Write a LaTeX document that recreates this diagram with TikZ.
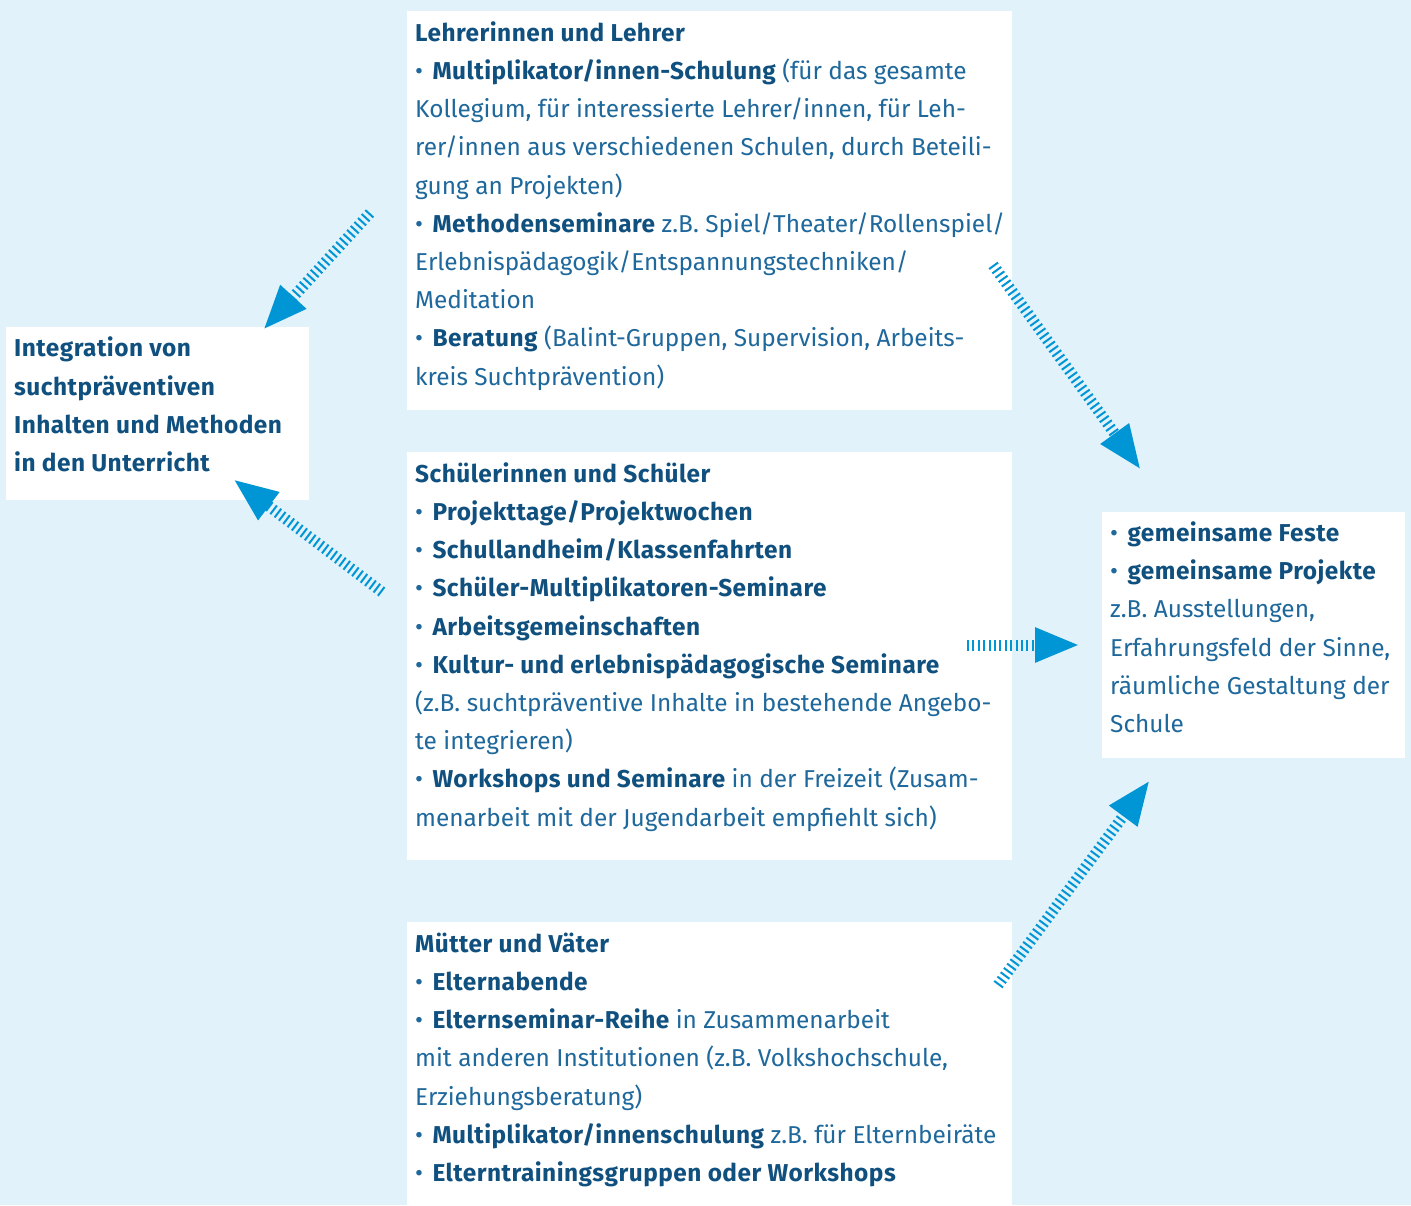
\documentclass[tikz,border=0pt]{standalone}
\usepackage{fontspec}
\setmainfont{Fira Sans}[BoldFeatures={LetterSpace=2.0}]
\usetikzlibrary{arrows.meta}
\definecolor{bg}{HTML}{E1F2FA}
\definecolor{arr}{HTML}{0096D6}
\definecolor{txt}{HTML}{1E689C}
\definecolor{bld}{HTML}{10507F}
\newcommand{\B}[1]{{\bfseries\color{bld}#1}}
\newcommand{\bul}{•\kern3pt\ }
\begin{document}
\begin{tikzpicture}[x=1pt,y=-1pt,
  box/.style={fill=white,draw=none,anchor=north west,inner sep=0pt},
  txtnode/.style={anchor=base west,align=left,inner sep=0pt,text=txt,
    font=\fontsize{24.4}{38.2}\selectfont},
  hatch/.style={draw=arr,line width=11pt,dash pattern=on 2pt off 3.4pt,
    -{Triangle[length=45pt,width=32pt,fill=arr]}}]
\fill[bg] (0,0) rectangle (1411,1205);
\useasboundingbox (0,0) rectangle (1411,1205);
% boxes
\node[box,minimum width=605pt,minimum height=399pt] (lbox) at (407,11) {};
\node[box,minimum width=605pt,minimum height=408pt] (sbox) at (407,452) {};
\node[box,minimum width=605pt,minimum height=283pt] (mbox) at (407,922) {};
\node[box,minimum width=303pt,minimum height=173pt] (ibox) at (6,327) {};
\node[box,minimum width=303pt,minimum height=246pt] (fbox) at (1102,512) {};
% texts (anchored at the baseline of their last line)
\node[txtnode] (ltxt) at (415,385) {\B{Lehrerinnen und Lehrer}\\
\bul\B{Multiplikator/innen-Schulung} (für das gesamte\\
Kollegium, für interessierte Lehrer/innen, für Leh-\\
rer/innen aus verschiedenen Schulen, durch Beteili-\\
gung an Projekten)\\
\bul\B{Methodenseminare} z.B. Spiel/Theater/Rollenspiel/\\
Erlebnispädagogik/Entspannungstechniken/\\
Meditation\\
\bul\B{Beratung} (Balint-Gruppen, Supervision, Arbeits-\\
kreis Suchtprävention)};
\node[txtnode] (stxt) at (415,826) {\B{Schülerinnen und Schüler}\\
\bul\B{Projekttage/Projektwochen}\\
\bul\B{Schullandheim/Klassenfahrten}\\
\bul\B{Schüler-Multiplikatoren-Seminare}\\
\bul\B{Arbeitsgemeinschaften}\\
\bul\B{Kultur- und erlebnispädagogische Seminare}\\
(z.B. suchtpräventive Inhalte in bestehende Angebo-\\
te integrieren)\\
\bul\B{Workshops und Seminare} in der Freizeit (Zusam-\\
menarbeit mit der Jugendarbeit empfiehlt sich)};
\node[txtnode] (mtxt) at (415,1181.5) {\B{Mütter und Väter}\\
\bul\B{Elternabende}\\
\bul\B{Elternseminar-Reihe} in Zusammenarbeit\\
mit anderen Institutionen (z.B. Volkshochschule,\\
Erziehungsberatung)\\
\bul\B{Multiplikator/innenschulung} z.B. für Elternbeiräte\\
\bul\B{Elterntrainingsgruppen oder Workshops}};
\node[txtnode] (itxt) at (14,471.5) {\B{Integration von}\\
\B{suchtpräventiven}\\
\B{Inhalten und Methoden}\\
\B{in den Unterricht}};
\node[txtnode] (ftxt) at (1110,732.5) {\bul\B{gemeinsame Feste}\\
\bul\B{gemeinsame Projekte}\\
z.B. Ausstellungen,\\
Erfahrungsfeld der Sinne,\\
räumliche Gestaltung der\\
Schule};
% arrow end points
\coordinate (a1s) at (370,213); \coordinate (a1e) at (263,330);
\coordinate (a2s) at (382,592); \coordinate (a2e) at (233,479);
\coordinate (a3s) at (993,265); \coordinate (a3e) at (1141,470);
\coordinate (a4s) at (967,645); \coordinate (a4e) at (1080,645);
\coordinate (a5s) at (998,985); \coordinate (a5e) at (1150,780);
\draw[hatch] (a1s) -- (a1e);
\draw[hatch] (a2s) -- (a2e);
\draw[hatch] (a3s) -- (a3e);
\draw[hatch] (a4s) -- (a4e);
\draw[hatch] (a5s) -- (a5e);
\end{tikzpicture}
\end{document}
